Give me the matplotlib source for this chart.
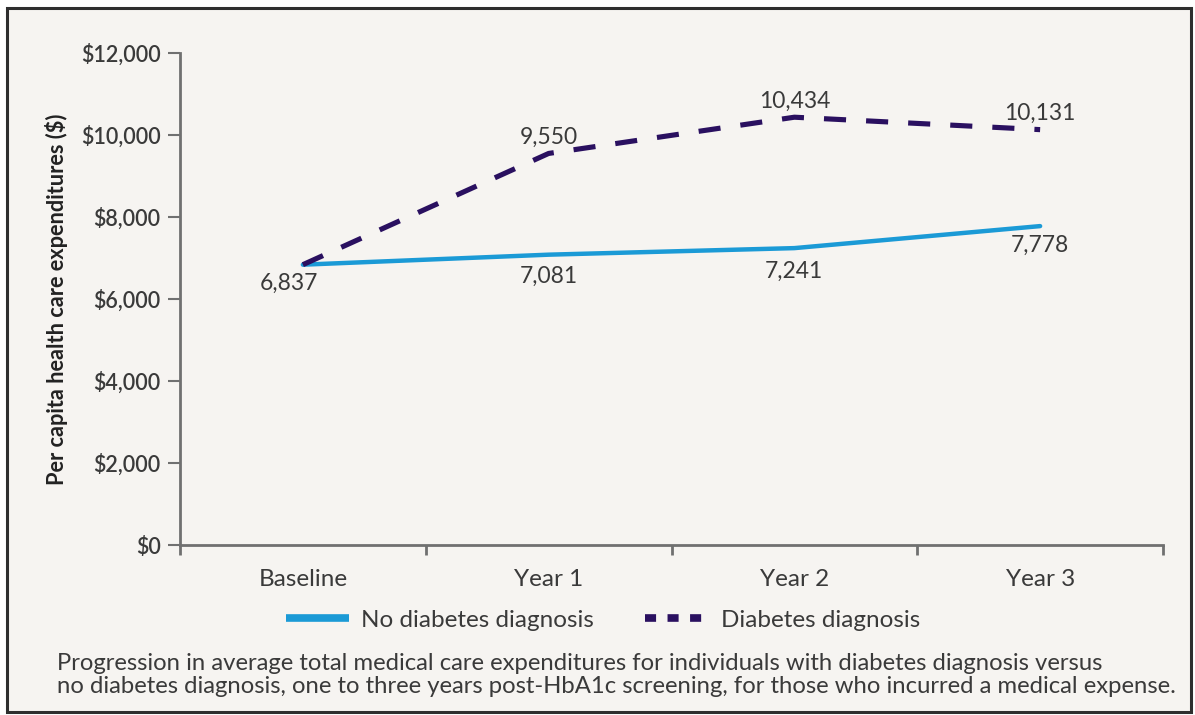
import matplotlib.pyplot as plt
from matplotlib.patches import Rectangle
from matplotlib.lines import Line2D

categories = ["Baseline", "Year 1", "Year 2", "Year 3"]
no_diabetes = [6837, 7081, 7241, 7778]
diabetes = [6837, 9550, 10434, 10131]
y_ticks = [0, 2000, 4000, 6000, 8000, 10000, 12000]

blue = "#1b9ad6"
purple = "#2a1060"
grey_text = "#3a3a3a"
bg = "#f6f4f1"

plt.rcParams["font.family"] = ["Lato", "DejaVu Sans"]

fig = plt.figure(figsize=(11.95, 7.15), dpi=100)
fig.patch.set_facecolor("white")
fig.patches.append(Rectangle((7 / 1195, 3 / 715), 1184 / 1195, 704 / 715,
                             transform=fig.transFigure, facecolor=bg,
                             edgecolor="#2e2e2e", linewidth=2.2, zorder=-5))

ax = fig.add_axes([180 / 1195, 170 / 715, 983 / 1195, 492 / 715])
ax.set_facecolor("none")

xs = [i + 0.5 for i in range(len(categories))]
ax.plot(xs, no_diabetes, color=blue, linewidth=3.2, solid_capstyle="round", zorder=3)
ax.plot(xs, diabetes, color=purple, linewidth=3.7, dashes=(4.3, 3.9),
        dash_capstyle="butt", zorder=3)

# value labels: diabetes above the line, no diabetes below
for i, (x, v) in enumerate(zip(xs, diabetes)):
    if i == 0:
        continue
    ax.annotate(f"{v:,}", (x, v), xytext=(0, 4), textcoords="offset points",
                ha="center", va="bottom", fontsize=16.5, color=grey_text)
for i, (x, v) in enumerate(zip(xs, no_diabetes)):
    dx = -10 if i == 0 else 0
    dy = -8 if i == 1 else (-9 if i == 2 else -6)
    ax.annotate(f"{v:,}", (x, v), xytext=(dx, dy), textcoords="offset points",
                ha="center", va="top", fontsize=16.5, color=grey_text)

ax.set_xlim(0, 4)
ax.set_ylim(0, 12000)
ax.set_xticks(range(5))
ax.set_xticklabels([])
ax.set_xticks(xs, minor=True)
ax.set_xticklabels(categories, minor=True)
ax.tick_params(axis="x", which="minor", length=0, pad=17, labelsize=17.5,
               labelcolor=grey_text)
ax.tick_params(axis="x", which="major", length=7, width=2, color="#707070")
ax.set_yticks(y_ticks)
ax.set_yticklabels([f"${t:,}" for t in y_ticks])
ax.tick_params(axis="y", length=9, width=1.5, color="#707070", labelsize=15.5,
               labelcolor=grey_text, pad=5)
for lbl in ax.get_yticklabels():
    lbl.set_fontweight("semibold")

for s in ["top", "right"]:
    ax.spines[s].set_visible(False)
for s in ["left", "bottom"]:
    ax.spines[s].set_color("#707070")
    ax.spines[s].set_linewidth(2)

ax.set_ylabel("Per capita health care expenditures ($)", fontsize=15.7,
              fontweight="bold", color="#222222", labelpad=9)

handles = [Line2D([], [], color=blue, linewidth=5.5, solid_capstyle="butt"),
           Line2D([], [], color=purple, linewidth=5.5, dashes=(1.45, 1.5),
                  dash_capstyle="butt")]
fig.legend(handles, ["No diabetes diagnosis", "Diabetes diagnosis"],
           loc="center", bbox_to_anchor=(603 / 1195, 1 - 620 / 715), ncol=2,
           frameon=False, fontsize=17.5, handlelength=2.6, handletextpad=0.5,
           columnspacing=2.1, labelcolor=grey_text)

fig.text(57 / 1195, 1 - 675 / 715,
         "Progression in average total medical care expenditures for individuals with diabetes diagnosis versus\n"
         "no diabetes diagnosis, one to three years post-HbA1c screening, for those who incurred a medical expense.",
         fontsize=17.2, color=grey_text, va="center", ha="left", linespacing=1.12)

fig.savefig("out.png", dpi=100, facecolor=fig.get_facecolor())
